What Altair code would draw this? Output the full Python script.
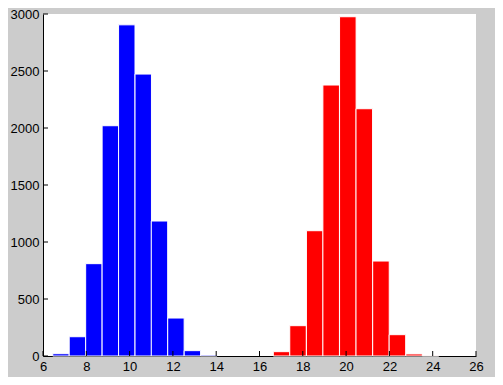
import altair as alt
import pandas as pd

# Histogram data
blue_centers = [6.83, 7.59, 8.35, 9.11, 9.87, 10.63, 11.38, 12.14, 12.90, 13.66]
blue_counts = [20, 169, 810, 2020, 2905, 2473, 1184, 333, 47, 8]
blue_width = 0.759

red_centers = [17.02, 17.78, 18.55, 19.31, 20.08, 20.84, 21.61, 22.37, 23.14, 23.90]
red_counts = [38, 266, 1099, 2377, 2976, 2169, 833, 187, 18, 2]
red_width = 0.765

x_ticks = [6, 8, 10, 12, 14, 16, 18, 20, 22, 24, 26]
y_ticks = [0, 500, 1000, 1500, 2000, 2500, 3000]

rows = []
for c, n in zip(blue_centers, blue_counts):
    rows.append({"start": c - blue_width / 2, "end": c + blue_width / 2, "count": n, "series": "blue"})
for c, n in zip(red_centers, red_counts):
    rows.append({"start": c - red_width / 2, "end": c + red_width / 2, "count": n, "series": "red"})
df = pd.DataFrame(rows)

W, H = 433, 342
FONT = "Liberation Sans"

xscale = alt.Scale(domain=[6, 26], nice=False, zero=False)
yscale = alt.Scale(domain=[0, 3000], nice=False)

bars = alt.Chart(df).mark_rect(stroke="white", strokeWidth=1).encode(
    x=alt.X("start:Q", scale=xscale,
            axis=alt.Axis(values=x_ticks, title=None, ticks=False, grid=False, format="d",
                          domainColor="black", labelColor="black",
                          labelFont=FONT, labelFontSize=13, labelPadding=4,
                          labelFlush=False)),
    x2="end:Q",
    y=alt.Y("count:Q", scale=yscale,
            axis=alt.Axis(values=y_ticks, title=None, ticks=False, grid=False, format="d",
                          domainColor="black", labelColor="black",
                          labelFont=FONT, labelFontSize=13, labelPadding=4,
                          labelFlush=False)),
    y2=alt.datum(0),
    color=alt.Color("series:N",
                    scale=alt.Scale(domain=["blue", "red"], range=["#0000ff", "#ff0000"]),
                    legend=None),
)

xt = alt.Chart(pd.DataFrame({"v": x_ticks})).mark_rule(color="black", strokeWidth=1).encode(
    x=alt.X("v:Q", scale=xscale),
    y=alt.value(H),
    y2=alt.value(H - 5),
)
yt = alt.Chart(pd.DataFrame({"v": y_ticks})).mark_rule(color="black", strokeWidth=1).encode(
    y=alt.Y("v:Q", scale=yscale),
    x=alt.value(0),
    x2=alt.value(5),
)

chart = alt.layer(bars, xt, yt).properties(
    width=W, height=H,
    background="#cccccc",
    autosize=alt.AutoSizeParams(type="none"),
    padding={"left": 35, "top": 6, "right": 19, "bottom": 21},
).configure_view(fill="white", stroke=None)

chart.save("out.html", embed_options={"renderer": "svg", "actions": False})
